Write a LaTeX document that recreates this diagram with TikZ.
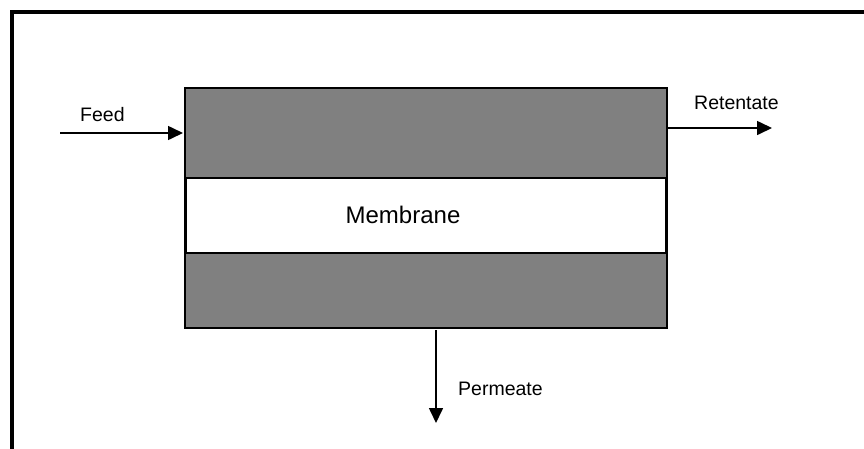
\documentclass[tikz,border=0pt]{standalone}
\usepackage{fontspec}
\setmainfont{Liberation Sans}
\usetikzlibrary{arrows.meta}
\definecolor{boxgray}{RGB}{128,128,128}
\begin{document}
\begin{tikzpicture}[x=1pt,y=-1pt,
  flow/.style={line width=1.6pt,-{Triangle[length=15pt,width=14pt]}},
  lbl/.style={font=\fontsize{19.5}{22}\selectfont,inner sep=0pt}]
\useasboundingbox (0,0) rectangle (864,448);
\clip (0,0) rectangle (864,448);
\draw[line width=3.5pt] (12,460) -- (12,12) -- (880,12);
\node[draw=black,line width=2pt,fill=boxgray,minimum width=482pt,minimum height=240pt,inner sep=0pt,anchor=north west] (unit) at (184,87) {};
\node[draw=black,line width=2pt,fill=white,minimum width=480pt,minimum height=75pt,inner sep=0pt,anchor=north west,font=\fontsize{24}{28}\selectfont] (mem) at (185,177) {};
\node[font=\fontsize{24}{28}\selectfont,inner sep=0pt] (memtxt) at (403,215) {Membrane};
\coordinate (feedstart) at (60,133);
\coordinate (feedend) at (183,133);
\draw[flow] (feedstart) -- (feedend);
\node[lbl,anchor=base west] (feed) at (80,121) {Feed};
\coordinate (retstart) at (668,128);
\coordinate (retend) at (772,128);
\draw[flow] (retstart) -- (retend);
\node[lbl,anchor=base west] (ret) at (694,109) {Retentate};
\coordinate (perstart) at (436,330);
\coordinate (perend) at (436,423);
\draw[flow] (perstart) -- (perend);
\node[lbl,anchor=base west] (per) at (458,395) {Permeate};
\end{tikzpicture}
\end{document}
